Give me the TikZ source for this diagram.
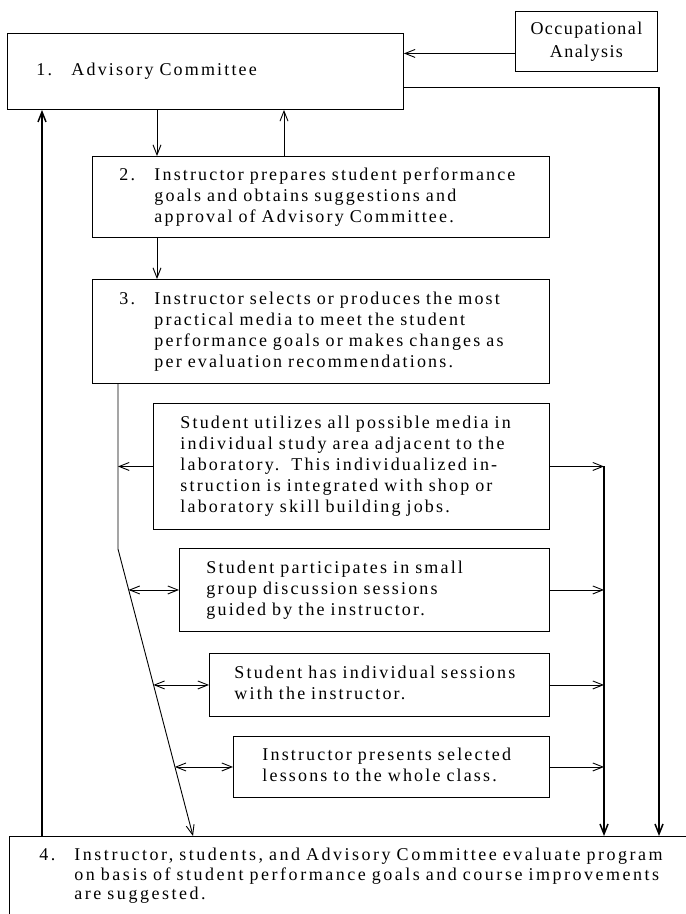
\documentclass[tikz,border=0pt]{standalone}
\usepackage{fontspec}
\setmainfont{Liberation Serif}[LetterSpace=12]
\usetikzlibrary{arrows.meta,calc}

% fixed-width lead-in for the numbered steps
\newcommand\stepno[1]{\makebox[35pt][l]{#1}}
\newcommand\stepgap{\hspace*{35pt}}

\begin{document}
\begin{tikzpicture}[x=1pt,y=-1pt,
  every node/.style={font=\fontsize{18}{21}\selectfont},
  box/.style={draw, line width=0.9pt, anchor=north west, inner xsep=27pt,
    inner ysep=0pt, align=left},
  arr/.style={line width=0.9pt, -{Straight Barb[length=10pt,width=8pt]}},
  darr/.style={line width=0.9pt, {Straight Barb[length=10pt,width=8pt]}-{Straight Barb[length=10pt,width=8pt]}},
  heavy/.style={line width=1.5pt, -{Straight Barb[length=10pt,width=8pt]}}
]
\useasboundingbox (0,0) rectangle (686,914);
\clip (0,0) rectangle (686,914);

% boxes
\node[box, anchor=north west, inner xsep=0pt, align=center,
      minimum width=142pt, minimum height=60pt,
      font=\fontsize{18}{23}\selectfont\addfontfeature{LetterSpace=8}] (occ) at (515,11)
  {\begin{tabular}{@{}c@{}}Occupational\\Analysis\end{tabular}};

\node[box, inner xsep=29pt, minimum width=396pt, minimum height=76pt, text width=338pt] (b1) at (7,33)
  {\begin{tabular}{@{}l@{}}\stepno{1.}Advisory Committee\end{tabular}};

\node[box, minimum width=457pt, minimum height=81pt, text width=403pt] (b2) at (92,156)
  {\begin{tabular}{@{}l@{}}\stepno{2.}Instructor prepares student performance\\
   \stepgap goals and obtains suggestions and\\
   \stepgap approval of Advisory Committee.\end{tabular}};

\node[box, minimum width=457pt, minimum height=104pt, text width=403pt] (b3) at (92,279)
  {\begin{tabular}{@{}l@{}}\stepno{3.}Instructor selects or produces the most\\
   \stepgap practical media to meet the student\\
   \stepgap performance goals or makes changes as\\
   \stepgap per evaluation recommendations.\end{tabular}};

\node[box, minimum width=396pt, minimum height=126pt, text width=342pt] (m1) at (153,403)
  {\begin{tabular}{@{}l@{}}Student utilizes all possible media in\\
   individual study area adjacent to the\\
   laboratory.\ \ This individualized in-\\
   struction is integrated with shop or\\
   laboratory skill building jobs.\end{tabular}};

\node[box, minimum width=370pt, minimum height=83pt, text width=316pt] (m2) at (179,548)
  {\begin{tabular}{@{}l@{}}Student participates in small\\
   group discussion sessions\\
   guided by the instructor.\end{tabular}};

\node[box, inner xsep=25pt, minimum width=340pt, minimum height=63pt, text width=290pt] (m3) at (209,653)
  {\begin{tabular}{@{}l@{}}Student has individual sessions\\
   with the instructor.\end{tabular}};

\node[box, inner xsep=29pt, minimum width=316pt, minimum height=61pt, text width=258pt] (m4) at (233,736)
  {\begin{tabular}{@{}l@{}}Instructor presents selected\\
   lessons to the whole class.\end{tabular}};

\node[box, inner xsep=30pt, minimum width=700pt, minimum height=80pt, text width=640pt,
      font=\fontsize{18}{19.5}\selectfont\addfontfeature{LetterSpace=14}] (b4) at (9,836)
  {\begin{tabular}{@{}l@{}}\stepno{4.}Instructor, students, and Advisory Committee evaluate program\\
   \stepgap on basis of student performance goals and course improvements\\
   \stepgap are suggested.\end{tabular}};

% reference columns and bends
\coordinate (occin) at ([yshift=-12pt]occ.west);
\coordinate (b1out) at ([yshift=-16pt]b1.east);
\coordinate (xfar) at (659,0);
\coordinate (xin) at (604,0);
\coordinate (xup) at (42,0);
\coordinate (xdown) at (157,0);
\coordinate (xback) at (284,0);
\coordinate (xleft) at (118,0);
\coordinate (kink) at (118,549);
\coordinate (xend) at (193,0);
\coordinate (dend) at (xend |- b4.north);
\coordinate (d2) at ($(kink)!0.141!(dend)$);
\coordinate (d3) at ($(kink)!0.472!(dend)$);
\coordinate (d4) at ($(kink)!0.758!(dend)$);

% top flow
\draw[arr] (occin) -- (occin -| b1.east);
\draw[heavy] (b1out) -- (b1out -| xfar) -- (xfar |- b4.north);
\draw[arr] (xdown |- b1.south) -- (xdown |- b2.north);
\draw[arr] (xback |- b2.north) -- (xback |- b1.south);
\draw[arr] (xdown |- b2.south) -- (xdown |- b3.north);
\draw[heavy] (xup |- b4.north) -- (xup |- b1.south);

% media branch on the left
\draw[arr] (xleft |- b3.south) -- (kink) -- (dend);
\draw[arr] (m1.west) -- (xleft |- m1.west);
\draw[darr] (d2 |- m2.west) -- (m2.west);
\draw[darr] (d3 |- m3.west) -- (m3.west);
\draw[darr] (d4 |- m4.west) -- (m4.west);

% media branch on the right
\draw[arr] (m1.east) -- (xin |- m1.east);
\draw[arr] (m2.east) -- (xin |- m2.east);
\draw[arr] (m3.east) -- (xin |- m3.east);
\draw[arr] (m4.east) -- (xin |- m4.east);
\draw[heavy] (xin |- m1.east) -- (xin |- b4.north);
\end{tikzpicture}
\end{document}
